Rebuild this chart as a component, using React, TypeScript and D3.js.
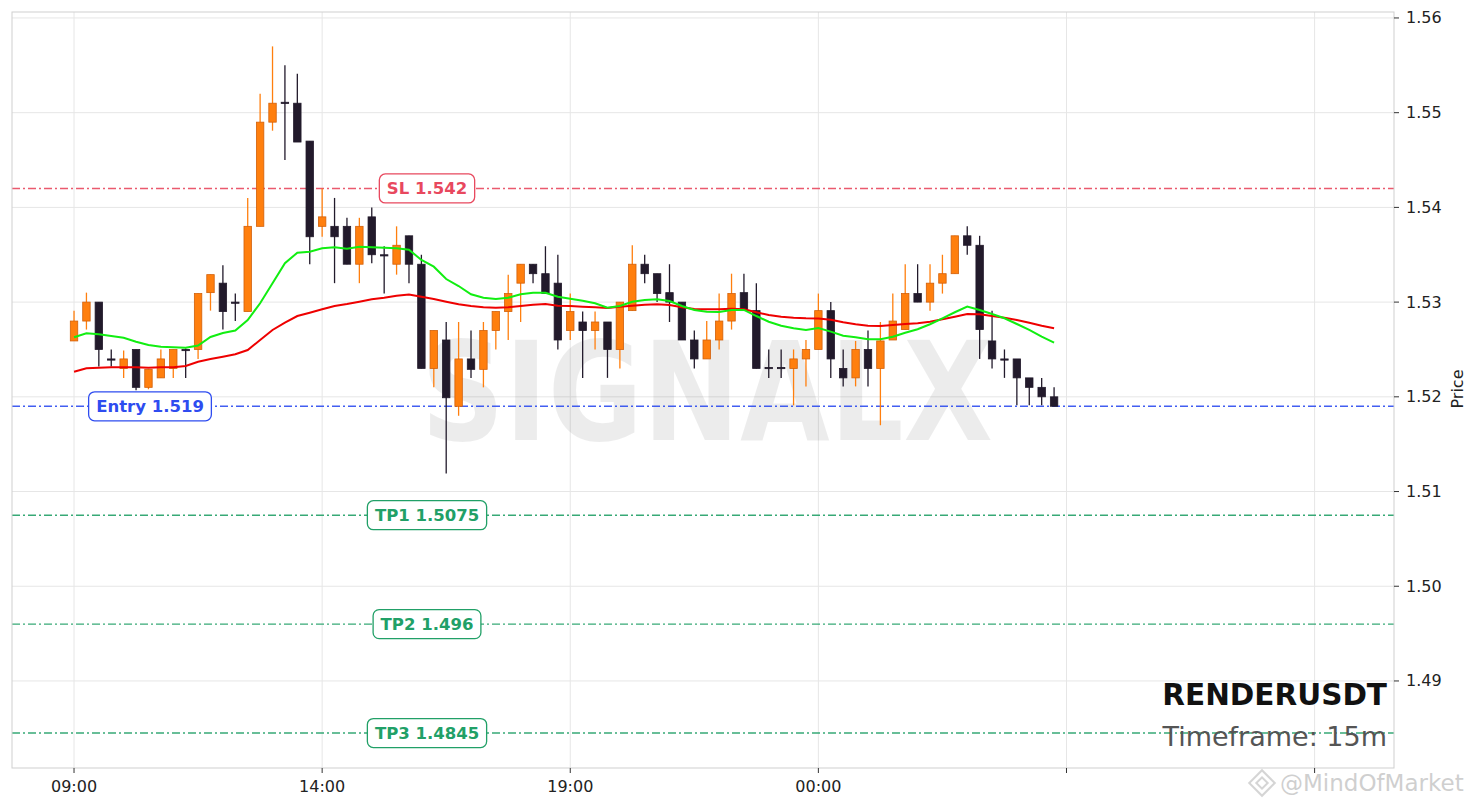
import React from 'react'
import * as d3 from 'd3'

// 15m candles, first one at 09:00
const startTime = new Date(2024, 0, 1, 9, 0)
const stepMinutes = 15

const opens = [
  1.5259, 1.5280, 1.5300, 1.5240, 1.5230, 1.5250, 1.5210, 1.5220, 1.5230, 1.5250,
  1.5250, 1.5310, 1.5320, 1.5300, 1.5290, 1.5380, 1.5490, 1.5511, 1.5510, 1.5470,
  1.5380, 1.5380, 1.5380, 1.5340, 1.5390, 1.5350, 1.5340, 1.5370, 1.5340, 1.5230,
  1.5260, 1.5190, 1.5240, 1.5229, 1.5270, 1.5290, 1.5320, 1.5340, 1.5330, 1.5320,
  1.5270, 1.5279, 1.5270, 1.5279, 1.5250, 1.5291, 1.5340, 1.5330, 1.5310, 1.5300,
  1.5260, 1.5240, 1.5260, 1.5280, 1.5310, 1.5291, 1.5231, 1.5231, 1.5230, 1.5240,
  1.5250, 1.5291, 1.5230, 1.5220, 1.5250, 1.5230, 1.5260, 1.5271, 1.5309, 1.5300,
  1.5320, 1.5330, 1.5370, 1.5360, 1.5259, 1.5240, 1.5240, 1.5220, 1.5210, 1.5200,
]
const highs = [
  1.5291, 1.5310, 1.5300, 1.5250, 1.5249, 1.5250, 1.5229, 1.5250, 1.5250, 1.5251,
  1.5309, 1.5329, 1.5339, 1.5309, 1.5410, 1.5520, 1.5570, 1.5550, 1.5541, 1.5470,
  1.5420, 1.5410, 1.5389, 1.5389, 1.5400, 1.5359, 1.5380, 1.5370, 1.5350, 1.5270,
  1.5279, 1.5279, 1.5270, 1.5279, 1.5290, 1.5329, 1.5340, 1.5340, 1.5359, 1.5350,
  1.5309, 1.5290, 1.5290, 1.5279, 1.5300, 1.5360, 1.5350, 1.5330, 1.5340, 1.5300,
  1.5270, 1.5280, 1.5309, 1.5330, 1.5330, 1.5320, 1.5250, 1.5250, 1.5250, 1.5260,
  1.5309, 1.5300, 1.5250, 1.5259, 1.5270, 1.5279, 1.5309, 1.5340, 1.5340, 1.5340,
  1.5350, 1.5370, 1.5380, 1.5370, 1.5291, 1.5250, 1.5240, 1.5220, 1.5220, 1.5210,
]
const lows = [
  1.5259, 1.5271, 1.5232, 1.5232, 1.5220, 1.5207, 1.5208, 1.5220, 1.5220, 1.5220,
  1.5240, 1.5291, 1.5271, 1.5280, 1.5290, 1.5380, 1.5481, 1.5450, 1.5469, 1.5340,
  1.5369, 1.5320, 1.5340, 1.5320, 1.5341, 1.5309, 1.5329, 1.5320, 1.5230, 1.5210,
  1.5119, 1.5180, 1.5220, 1.5210, 1.5250, 1.5260, 1.5279, 1.5320, 1.5309, 1.5250,
  1.5260, 1.5220, 1.5250, 1.5220, 1.5230, 1.5291, 1.5320, 1.5300, 1.5279, 1.5260,
  1.5230, 1.5240, 1.5250, 1.5271, 1.5291, 1.5230, 1.5220, 1.5220, 1.5191, 1.5211,
  1.5250, 1.5220, 1.5211, 1.5211, 1.5211, 1.5170, 1.5260, 1.5271, 1.5300, 1.5291,
  1.5309, 1.5330, 1.5350, 1.5240, 1.5230, 1.5220, 1.5191, 1.5191, 1.5191, 1.5190,
]
const closes = [
  1.5280, 1.5300, 1.5250, 1.5240, 1.5240, 1.5210, 1.5229, 1.5240, 1.5250, 1.5250,
  1.5309, 1.5329, 1.5290, 1.5300, 1.5380, 1.5490, 1.5510, 1.5511, 1.5469, 1.5369,
  1.5390, 1.5369, 1.5340, 1.5380, 1.5350, 1.5350, 1.5360, 1.5340, 1.5230, 1.5270,
  1.5199, 1.5240, 1.5229, 1.5270, 1.5290, 1.5309, 1.5340, 1.5330, 1.5309, 1.5260,
  1.5290, 1.5270, 1.5279, 1.5250, 1.5300, 1.5340, 1.5330, 1.5309, 1.5300, 1.5260,
  1.5240, 1.5260, 1.5280, 1.5309, 1.5291, 1.5230, 1.5231, 1.5231, 1.5240, 1.5250,
  1.5291, 1.5240, 1.5220, 1.5250, 1.5230, 1.5259, 1.5280, 1.5309, 1.5300, 1.5320,
  1.5330, 1.5370, 1.5360, 1.5271, 1.5240, 1.5240, 1.5220, 1.5210, 1.5200, 1.5190,
]

// moving averages as drawn (green = fast, red = slow)
const emaFast = [
  1.52629, 1.52671, 1.52660, 1.52642, 1.52624, 1.52582, 1.52547, 1.52529, 1.52523, 1.52519,
  1.52542, 1.52632, 1.52674, 1.52700, 1.52811, 1.52988, 1.53199, 1.53410, 1.53522, 1.53532,
  1.53568, 1.53579, 1.53564, 1.53585, 1.53579, 1.53575, 1.53568, 1.53553, 1.53445, 1.53374,
  1.53244, 1.53170, 1.53083, 1.53047, 1.53033, 1.53047, 1.53083, 1.53099, 1.53099, 1.53057,
  1.53036, 1.53015, 1.52988, 1.52940, 1.52959, 1.53004, 1.53022, 1.53030, 1.53012, 1.52959,
  1.52917, 1.52899, 1.52896, 1.52917, 1.52917, 1.52853, 1.52793, 1.52751, 1.52724, 1.52706,
  1.52727, 1.52688, 1.52645, 1.52629, 1.52607, 1.52607, 1.52635, 1.52677, 1.52713, 1.52766,
  1.52829, 1.52893, 1.52952, 1.52917, 1.52875, 1.52829, 1.52769, 1.52706, 1.52635, 1.52572,
]
const emaSlow = [
  1.52265, 1.52301, 1.52308, 1.52312, 1.52312, 1.52312, 1.52308, 1.52312, 1.52312, 1.52326,
  1.52371, 1.52399, 1.52424, 1.52449, 1.52494, 1.52600, 1.52706, 1.52783, 1.52853, 1.52888,
  1.52924, 1.52959, 1.52980, 1.53004, 1.53030, 1.53047, 1.53067, 1.53079, 1.53057, 1.53033,
  1.53004, 1.52977, 1.52959, 1.52945, 1.52941, 1.52945, 1.52959, 1.52973, 1.52980, 1.52962,
  1.52959, 1.52952, 1.52945, 1.52938, 1.52952, 1.52962, 1.52973, 1.52977, 1.52970, 1.52945,
  1.52927, 1.52924, 1.52924, 1.52931, 1.52924, 1.52893, 1.52864, 1.52846, 1.52835, 1.52829,
  1.52827, 1.52814, 1.52787, 1.52766, 1.52751, 1.52748, 1.52758, 1.52769, 1.52776, 1.52793,
  1.52819, 1.52846, 1.52875, 1.52871, 1.52853, 1.52835, 1.52811, 1.52783, 1.52751, 1.52724,
]

const levelNames = ['SL', 'Entry', 'TP1', 'TP2', 'TP3']
const levelValues = [1.542, 1.519, 1.5075, 1.496, 1.4845]
const levelColors = ['#e8485e', '#2e4cf0', '#21a067', '#21a067', '#21a067']
const levelLabelX = [427, 150, 427, 427, 427]

const yTicks = [1.49, 1.50, 1.51, 1.52, 1.53, 1.54, 1.55, 1.56]
const xTickHours = [0, 5, 10, 15, 20, 25]
const xTickLabels = ['09:00', '14:00', '19:00', '00:00', '', '']

const symbol = 'RENDERUSDT'
const timeframe = 'Timeframe: 15m'

const W = 1479
const H = 808
const plot = { left: 12, right: 1394, top: 12, bottom: 768 }
const font = 'DejaVu Sans, sans-serif'
const upColor = '#ff7f0e'
const upEdge = '#d2600a'
const downColor = '#221a2b'
const labelSize = 16.5

// rough DejaVu Sans Bold advance widths (em) for the label boxes
const glyphW: Record<string, number> = {
  S: 0.72, L: 0.637, E: 0.683, T: 0.682, P: 0.733, n: 0.712, t: 0.478, r: 0.493, y: 0.652,
  ' ': 0.348, '.': 0.38,
}
const textWidth = (s: string, size: number) =>
  s.split('').reduce((a, ch) => a + (glyphW[ch] ?? 0.696), 0) * size

const App: React.FC = () => {
  const times = closes.map((_, i) => d3.timeMinute.offset(startTime, i * stepMinutes))

  const x = d3.scaleTime()
    .domain([d3.timeMinute.offset(startTime, -75), d3.timeMinute.offset(startTime, 1596.8)])
    .range([plot.left, plot.right])

  const y = d3.scaleLinear()
    .domain([1.48081, 1.56063])
    .range([plot.bottom, plot.top])

  const slot = x(times[1]) - x(times[0])
  const bodyW = slot * 0.6

  const line = d3.line<number>()
    .x((_, i) => x(times[i]))
    .y(d => y(d))

  const xTicks = xTickHours.map(h => d3.timeHour.offset(startTime, h))

  return (
    <svg width={W} height={H} style={{ position: 'absolute', left: 0, top: 0, background: '#fff' }}
      fontFamily={font}>
      <rect x={0} y={0} width={W} height={H} fill="#fff" />

      {/* grid */}
      <g stroke="#e6e6e6" strokeWidth={1}>
        {yTicks.map(t => (
          <line key={'gy' + t} x1={plot.left} x2={plot.right} y1={y(t)} y2={y(t)} />
        ))}
        {xTicks.map((t, i) => (
          <line key={'gx' + i} x1={x(t)} x2={x(t)} y1={plot.top} y2={plot.bottom} />
        ))}
      </g>

      {/* watermark */}
      <text x={707} y={440} textAnchor="middle" fontSize={137} fontWeight="bold"
        fill="#000" fillOpacity={0.075} textLength={572} lengthAdjust="spacingAndGlyphs">
        SIGNALX
      </text>

      {/* level lines */}
      {levelValues.map((v, i) => (
        <line key={'lv' + i} x1={plot.left} x2={plot.right} y1={y(v)} y2={y(v)}
          stroke={levelColors[i]} strokeWidth={1.4} strokeOpacity={0.9}
          strokeDasharray="8,3,2,3" />
      ))}

      {/* candles */}
      {closes.map((c, i) => {
        const up = c > opens[i]
        const cx = x(times[i])
        const top = y(Math.max(opens[i], c))
        const bot = y(Math.min(opens[i], c))
        const col = up ? upColor : downColor
        return (
          <g key={'c' + i}>
            <line x1={cx} x2={cx} y1={y(highs[i])} y2={y(lows[i])} stroke={col} strokeWidth={1.3} />
            <rect x={cx - bodyW / 2} y={top} width={bodyW} height={Math.max(bot - top, 1.2)}
              fill={col} stroke={up ? upEdge : downColor} strokeWidth={0.8} />
          </g>
        )
      })}

      {/* moving averages */}
      <path d={line(emaSlow) || ''} fill="none" stroke="#ee0000" strokeWidth={2} />
      <path d={line(emaFast) || ''} fill="none" stroke="#11ee11" strokeWidth={2} />

      {/* level labels */}
      {levelValues.map((v, i) => {
        const label = `${levelNames[i]} ${v}`
        const w = textWidth(label, labelSize) + 15
        return (
          <g key={'ll' + i}>
            <rect x={levelLabelX[i] - w / 2} y={y(v) - 14.5} width={w} height={29} rx={6}
              fill="#fff" stroke={levelColors[i]} strokeWidth={1.3} />
            <text x={levelLabelX[i]} y={y(v) + 6} textAnchor="middle" fontSize={labelSize}
              fontWeight="bold" fill={levelColors[i]}>{label}</text>
          </g>
        )
      })}

      {/* frame */}
      <rect x={plot.left} y={plot.top} width={plot.right - plot.left} height={plot.bottom - plot.top}
        fill="none" stroke="#cfcfcf" strokeWidth={1} />

      {/* right axis */}
      {yTicks.map(t => (
        <g key={'ty' + t}>
          <line x1={plot.right} x2={plot.right + 5} y1={y(t)} y2={y(t)} stroke="#333" />
          <text x={plot.right + 12} y={y(t) + 5.5} fontSize={16} fill="#222">{t.toFixed(2)}</text>
        </g>
      ))}
      <text transform="translate(1463,389) rotate(-90)"
        textAnchor="middle" fontSize={16} fill="#222">Price</text>

      {/* bottom axis */}
      {xTicks.map((t, i) => (
        <g key={'tx' + i}>
          <line x1={x(t)} x2={x(t)} y1={plot.bottom} y2={plot.bottom + 5} stroke="#333" />
          <text x={x(t)} y={plot.bottom + 24} textAnchor="middle" fontSize={16} fill="#222">
            {xTickLabels[i]}
          </text>
        </g>
      ))}

      {/* symbol info */}
      <text x={1387} y={705} textAnchor="end" fontSize={29.5} fontWeight="bold" fill="#111">{symbol}</text>
      <text x={1387} y={746} textAnchor="end" fontSize={27} fill="#555">{timeframe}</text>

      {/* source mark */}
      <g opacity={0.35}>
        <g transform="translate(1262,783) rotate(45)" fill="none" stroke="#888" strokeWidth={2}>
          <rect x={-4} y={-4} width={8} height={8} />
          <rect x={-9} y={-9} width={18} height={18} />
        </g>
        <text x={1280} y={791} fontSize={23} fill="#777">@MindOfMarket</text>
      </g>
    </svg>
  )
}

export default App
